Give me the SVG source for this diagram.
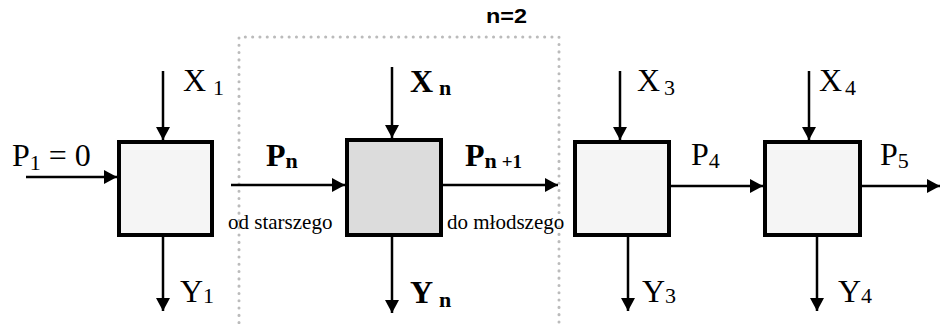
<svg xmlns="http://www.w3.org/2000/svg" width="940" height="324" viewBox="0 0 940 324">
<style>
.box{stroke:#000;stroke-width:4}
.light{fill:#f5f5f5}
.dark{fill:#dcdcdc}
.ln{stroke:#000;stroke-width:2.5;fill:none;marker-end:url(#ah)}
.frame{fill:none;stroke:#bbb;stroke-width:3;stroke-dasharray:0.1 7.2;stroke-linecap:round}
</style>
<defs>
<marker id="ah" markerUnits="userSpaceOnUse" markerWidth="14" markerHeight="14" refX="13" refY="7" orient="auto">
<path d="M0,0 L13,7 L0,14 z" fill="#000"/>
</marker>
</defs>
<g id="frame">
<path class="frame" d="M239,330 V37 H559 V330"/>
<text x="486" y="23" font-family="Liberation Sans, Arial, sans-serif" font-weight="bold" font-size="20" textLength="41" lengthAdjust="spacingAndGlyphs">n=2</text>
</g>
<g id="connectors">
<line class="ln" x1="163" y1="71" x2="163" y2="140"/>
<line class="ln" x1="26" y1="177" x2="117" y2="177"/>
<line class="ln" x1="163" y1="237" x2="163" y2="311"/>
<line class="ln" x1="392" y1="67" x2="392" y2="138"/>
<line class="ln" x1="231" y1="185" x2="345" y2="185"/>
<line class="ln" x1="443" y1="185" x2="558" y2="185"/>
<line class="ln" x1="392" y1="237" x2="392" y2="313"/>
<line class="ln" x1="620" y1="71" x2="620" y2="140"/>
<line class="ln" x1="628" y1="237" x2="628" y2="311"/>
<line class="ln" x1="671" y1="186" x2="763" y2="186"/>
<line class="ln" x1="809" y1="71" x2="809" y2="140"/>
<line class="ln" x1="817" y1="237" x2="817" y2="311"/>
<line class="ln" x1="862" y1="186" x2="940" y2="186"/>
</g>
<g font-family="Liberation Serif, Times New Roman, serif" fill="#000" font-size="32">
<g id="node1">
<rect class="box light" x="119" y="142" width="93" height="93"/>
<text x="12" y="166">P<tspan font-size="22" dy="4">1</tspan><tspan dy="-4"> = 0</tspan></text>
<text x="183" y="91">X<tspan font-size="22" dx="7" dy="4">1</tspan></text>
<text x="180" y="302">Y<tspan font-size="22" dy="1">1</tspan></text>
</g>
<g id="node2">
<rect class="box dark" x="347" y="140" width="94" height="95"/>
<text x="410" y="92" font-weight="bold">X<tspan font-size="22" dx="6" dy="3">n</tspan></text>
<text x="410" y="303" font-weight="bold">Y<tspan font-size="22" dx="6" dy="4">n</tspan></text>
<text x="266" y="166" font-weight="bold">P<tspan font-size="22" dy="2">n</tspan></text>
<text x="465" y="166" font-weight="bold">P<tspan font-size="22" dy="2">n</tspan><tspan font-size="19" dx="5">+1</tspan></text>
<text x="228" y="229" font-size="21">od starszego</text>
<text x="447" y="229" font-size="21">do młodszego</text>
</g>
<g id="node3">
<rect class="box light" x="575" y="142" width="94" height="93"/>
<text x="637" y="91">X<tspan font-size="22" dx="4" dy="4">3</tspan></text>
<text x="642" y="302">Y<tspan font-size="22" dy="1">3</tspan></text>
<text x="691" y="165">P<tspan font-size="22" dy="3">4</tspan></text>
</g>
<g id="node4">
<rect class="box light" x="765" y="142" width="95" height="93"/>
<text x="819" y="91">X<tspan font-size="22" dx="3" dy="4">4</tspan></text>
<text x="838" y="302">Y<tspan font-size="22" dy="1">4</tspan></text>
<text x="880" y="165">P<tspan font-size="22" dy="3">5</tspan></text>
</g>
</g>
</svg>
